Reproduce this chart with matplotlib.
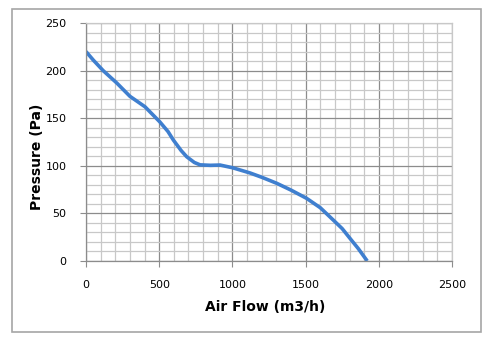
import matplotlib
matplotlib.use("Agg")
from matplotlib import pyplot as plt
from matplotlib.patches import Rectangle
import numpy as np

flow = [0, 50, 117, 210, 300, 403, 505, 560, 597, 650, 688, 740, 779, 850, 915,
        1000, 1120, 1200, 1303, 1400, 1507, 1600, 1689, 1750, 1803, 1860, 1921]
pressure = [220, 211, 200, 187, 173, 162, 146, 136, 127, 116, 109.5, 103.5, 101, 100.5, 100.8,
            98, 92.5, 88, 81.6, 74.5, 65.8, 56, 43, 34, 23.8, 13, 0]

fig = plt.figure(figsize=(5.0, 3.46), dpi=100)
fig.patches.append(Rectangle((12/500, 14/346), 469/500, 323/346, transform=fig.transFigure,
                             fill=False, edgecolor='#a6a6a6', linewidth=1.2))
ax = fig.add_axes([86/500, 85/346, 366/500, 238/346])

ax.set_xlim(0, 2500)
ax.set_ylim(0, 250)
ax.set_xticks(np.arange(0, 2501, 500))
ax.set_yticks(np.arange(0, 251, 50))
ax.set_xticks(np.arange(0, 2501, 100), minor=True)
ax.set_yticks(np.arange(0, 251, 10), minor=True)
ax.grid(which='minor', color='#c8c8c8', linewidth=0.9)
ax.grid(which='major', color='#8c8c8c', linewidth=0.9)
ax.set_axisbelow(True)
ax.tick_params(which='minor', length=0)
ax.tick_params(which='major', length=4, color='#8c8c8c', labelsize=8, pad=10)
for s in ax.spines.values():
    s.set_color('#8c8c8c')
    s.set_linewidth(0.9)
ax.spines['top'].set_color('#c8c8c8')
ax.spines['right'].set_color('#c8c8c8')

ax.plot(flow, pressure, color='#3f7fcf', linewidth=2.6, solid_capstyle='butt')

ax.set_xlabel('Air Flow (m3/h)', fontsize=10, fontweight='bold')
ax.set_ylabel('Pressure (Pa)', fontsize=10, fontweight='bold')
ax.xaxis.set_label_coords(0.49, -0.162)
ax.yaxis.set_label_coords(-0.115, 0.437)

fig.savefig('out.png', dpi=100)
